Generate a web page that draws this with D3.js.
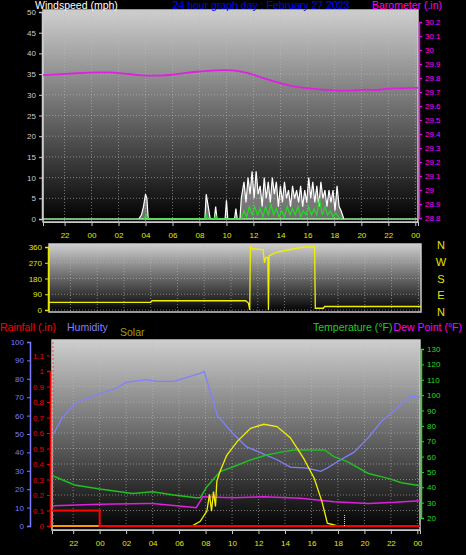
<!DOCTYPE html>
<html><head><meta charset="utf-8">
<script src="https://cdn.jsdelivr.net/npm/d3@7"></script>
<style>body{margin:0;background:#000}svg{display:block;font-family:"Liberation Sans",Arial,sans-serif}</style>
</head><body><div id="viz"></div>
<script>
// time is hours from midnight of Feb 27 (negative = previous evening)
var timeTicks = [-2,0,2,4,6,8,10,12,14,16,18,20,22,24];
var baro = [[-3.6,29.82],[-1.9,29.83],[0.1,29.84],[1.1,29.843],[3.1,29.826],[4.1,29.814],[6,29.82],[7.5,29.845],[9.3,29.857],[10.5,29.857],[11.5,29.84],[12.7,29.80],[14.2,29.755],[15.5,29.73],[16.7,29.72],[17.9,29.71],[19.4,29.71],[20.4,29.72],[21.1,29.71],[21.9,29.726],[24.2,29.73]];
var gust = [[3.5,0],[3.7,1],[3.85,3],[4.0,6],[4.1,5],[4.2,0],[8.4,0],[8.5,6],[8.65,3],[8.8,0],[9.1,0],[9.2,3],[9.3,0],[9.9,0],[10,4.5],[10.1,0],[10.6,0],[10.7,2.5],[10.8,0],
 [11.0,0],[11.1,5],[11.3,9],[11.45,4],[11.6,10],[11.75,6],[11.9,11.5],[12.05,5],[12.2,11.5],[12.35,6],[12.5,8],[12.65,3],[12.8,10],[12.95,5],[13.1,9],[13.25,4],[13.4,10],[13.55,6],[13.7,9],[13.85,3],[14.0,8],[14.15,4],[14.3,9],[14.45,5],[14.6,7],[14.75,3],[14.9,8],[15.05,5],[15.2,7],[15.35,4],[15.5,8],[15.65,3],[15.8,7],[15.95,4],[16.1,10],[16.25,5],[16.4,9],[16.55,4],[16.7,8],[16.85,3],[17.0,9],[17.15,5],[17.3,7],[17.45,3],[17.6,7],[17.75,4],[17.9,7],[18.05,2],[18.2,8],[18.35,3],[18.5,2],[18.7,0]];
var windAvg = [[3.9,0],[4.05,1],[4.2,0],[8.4,0],[8.5,1],[8.6,0],[9.1,0],[9.2,1],[9.3,0],
 [11.1,0],[11.3,2],[11.5,0.5],[11.7,3],[11.9,1],[12.1,3],[12.3,1],[12.5,2.5],[12.7,0.5],[12.9,3],[13.1,1],[13.3,3.5],[13.5,1],[13.7,2.5],[13.9,0.5],[14.1,2],[14.3,0.5],[14.5,3],[14.7,1],[14.9,2.5],[15.1,1],[15.3,3],[15.5,0.5],[15.7,2],[15.9,1],[16.1,3],[16.3,1],[16.5,2.5],[16.7,1],[16.9,5],[17.1,1],[17.3,3],[17.5,1],[17.7,2],[17.9,0.5],[18.1,1.5],[18.3,0.5],[18.5,0]];
var windDir = [[-3.6,44],[4.0,44],[4.1,53],[11.1,53],[11.3,40],[11.4,0],[11.45,360],[11.6,350],[12.4,345],[12.5,270],[12.6,300],[12.75,300],[12.8,0],[12.85,310],[13.4,330],[14.7,350],[15.5,360],[16.25,360],[16.3,10],[16.9,10],[17.0,20],[24.2,20]];
var humidity = [[-3.5,50],[-2.8,59],[-1.8,67],[0,72],[1.3,75],[2,78],[3.5,79.5],[4.3,78.6],[5.6,78.6],[6.6,80.8],[7.6,83],[7.9,84],[8.9,60],[10.1,50],[11.1,43],[12.1,40],[13.4,36],[14.4,32],[15.7,31.5],[16.7,29.7],[17.2,31.5],[18.2,36],[19.2,40],[20.3,48],[21.3,57],[22.3,63],[23.5,70.5],[24.2,70]];
var temperature = [[-3.5,47.3],[-1.9,41.5],[0,38.9],[2.5,36],[4,37.1],[5.6,35],[7.3,33.2],[7.6,33.2],[8.1,40.4],[9.1,50.2],[10.1,53.4],[11.4,57.8],[12.6,61],[13.9,63.2],[14.7,64.3],[16,64.3],[17,64.3],[17.7,59.9],[18.7,56.7],[20.3,49],[21.8,45.8],[22.8,43],[24.2,41]];
var dewPoint = [[-3.5,28],[0,28.9],[3.5,29.5],[4,29.5],[6.6,27.4],[7.3,26.7],[7.8,33.9],[10.1,33.2],[12.4,33.9],[15.2,32.8],[17.7,30.6],[20.3,29.5],[22.3,30.2],[24.2,31.3]];
var solar = [[-3.6,0],[6.97,0],[7.6,25],[8.1,80],[8.3,170],[8.45,80],[8.6,185],[8.75,105],[8.85,240],[9.1,295],[9.6,380],[10.4,455],[11.4,525],[12.4,547],[13.4,535],[14.4,475],[15.4,365],[16.2,258],[16.8,130],[17.2,15],[18,0],[24.2,0]];
var rain = [[-3.6,0.1],[0,0.1],[0,0],[24.2,0]];
var windTicks = d3.range(0,51,5), baroTicks = d3.range(28.8,30.25,0.1);
var dirTicks = [0,90,180,270,360], compass = ["N","W","S","E","N"];
var humTicks = d3.range(0,101,10), rainTicks = d3.range(0,1.15,0.1), tempTicks = d3.range(20,131,10);

var svg = d3.select('#viz').append('svg').attr('width',466).attr('height',555);
var defs = svg.append('defs');
var g = defs.append('linearGradient').attr('id','bg').attr('x1',0).attr('y1',0).attr('x2',0).attr('y2',1);
g.append('stop').attr('offset','0%').attr('stop-color','#cfcfcf');
g.append('stop').attr('offset','100%').attr('stop-color','#000');

function panel(x0,x1,y0,y1,tx){
  svg.append('rect').attr('x',x0).attr('y',y0).attr('width',x1-x0).attr('height',y1-y0).attr('fill','url(#bg)');
  var x = d3.scaleLinear().domain([-3.6,24.2]).range([x0,x1]);
  svg.append('g').selectAll('line').data(timeTicks).join('line')
    .attr('x1',d=>x(d)).attr('x2',d=>x(d)).attr('y1',y0).attr('y2',y1)
    .attr('stroke','#bbb').attr('stroke-width',0.6).attr('stroke-dasharray','1,2');
  svg.append('rect').attr('x',x0).attr('y',y0).attr('width',x1-x0).attr('height',y1-y0)
    .attr('fill','none').attr('stroke','#ccc').attr('stroke-width',1.5);
  if(tx){
    var ax = svg.append('g').attr('transform','translate(0,'+y1+')')
      .call(d3.axisBottom(x).tickValues(timeTicks).tickSize(4).tickFormat(d=>d3.format('02')(((d%24)+24)%24)));
    ax.select('.domain').attr('stroke','#ccc');
    ax.selectAll('line').attr('stroke','#ccc');
    ax.selectAll('text').attr('fill','#e6e600').attr('font-size',8).attr('dy','1.1em');
  }
  return x;
}
function hgrid(y,ticks,x0,x1){
  svg.append('g').selectAll('line').data(ticks).join('line')
    .attr('x1',x0).attr('x2',x1).attr('y1',d=>y(d)).attr('y2',d=>y(d))
    .attr('stroke','#bbb').attr('stroke-width',0.6).attr('stroke-dasharray','1,2');
}
function yaxis(gen,pos,col,ticks,fmt){
  var a = svg.append('g').attr('transform','translate('+pos+',0)')
    .call(gen.tickValues(ticks).tickSize(3).tickFormat(fmt));
  a.select('.domain').attr('stroke',col).attr('stroke-width',1.5);
  a.selectAll('line').attr('stroke',col);
  a.selectAll('text').attr('fill',col).attr('font-size',8);
}
function line(x,y,data,col,w,curve){
  svg.append('path').datum(data).attr('fill','none').attr('stroke',col).attr('stroke-width',w)
    .attr('d',d3.line().x(d=>x(d[0])).y(d=>y(d[1])).curve(curve||d3.curveLinear));
}
function txt(s,x,y,col,size,anchor){
  svg.append('text').text(s).attr('x',x).attr('y',y).attr('fill',col).attr('font-size',size||11).attr('text-anchor',anchor||'start');
}

// ---- wind / barometer
var x1 = panel(43,418,10,222,true);
var yW = d3.scaleLinear().domain([0,50]).range([219,12]);
var yB = d3.scaleLinear().domain([28.8,30.2]).range([218,22]);
hgrid(yW,windTicks,43,418);
yaxis(d3.axisLeft(yW),42,'#ccc',windTicks,d3.format('d'));
yaxis(d3.axisRight(yB),419,'#f0f',baroTicks,d=>d3.format('.1f')(d).replace(/\.0$/,''));
svg.append('path').datum(gust).attr('fill','rgba(220,220,220,0.5)')
  .attr('d',d3.area().x(d=>x1(d[0])).y0(yW(0)).y1(d=>yW(d[1])));
line(x1,yW,gust,'#fff',1.2);
line(x1,yW,[[-3.6,0],[24.2,0]],'#9e9',1.5);
line(x1,yW,windAvg,'#2d2',1.2);
line(x1,yB,baro,'#e020e0',1.8,d3.curveBasis);
txt('Windspeed (mph)',35,9,'#fff',10.5);
txt('24 hour graph day : February 27 2023',261,9,'#0000ff',10.5,'middle');
txt('Barometer (.in)',372,9,'#f0f',10.5);

// ---- wind direction
var x2 = panel(49,421,244,312,false);
var yD = d3.scaleLinear().domain([0,360]).range([310,247]);
hgrid(yD,dirTicks,49,421);
yaxis(d3.axisLeft(yD),48,'#e6e600',dirTicks,d3.format('d'));
line(x2,yD,windDir,'#f0f000',1.3);
compass.forEach(function(c,i){ txt(c,441,249+i*16.8,'#e6e600',11,'middle'); });

// ---- rain / humidity / solar / temperature
var x3 = panel(52,420,340,530,true);
var yH = d3.scaleLinear().domain([0,100]).range([526,342]);
var yR = d3.scaleLinear().domain([0,1]).range([526,371]);
var yT = d3.scaleLinear().domain([20,130]).range([518,349]);
var yS = d3.scaleLinear().domain([0,1000]).range([526,340]);
hgrid(yR,rainTicks,52,420);
yaxis(d3.axisLeft(yH),30,'#7c7cff',humTicks,d3.format('d'));
yaxis(d3.axisLeft(yR),50,'#e00',rainTicks,d=>d3.format('.1f')(d).replace(/\.0$/,''));
yaxis(d3.axisRight(yT),421,'#2d2',tempTicks,d3.format('d'));
svg.append('line').attr('x1',53).attr('x2',53).attr('y1',342).attr('y2',526)
  .attr('stroke','#f44').attr('stroke-dasharray','2,2');
line(x3,yH,humidity,'#8080ff',1.3);
line(x3,yT,temperature,'#20c020',1.5);
line(x3,yT,dewPoint,'#e020e0',1.5);
line(x3,yS,solar,'#f0f000',1.3);
line(x3,yR,[[-3.6,0],[24.2,0]],'#f90',2);
line(x3,yR,rain,'#f00',2);
svg.append('line').attr('x1',x3(18.5)).attr('x2',x3(18.5)).attr('y1',yS(0)).attr('y2',yS(60))
  .attr('stroke','#ff0').attr('stroke-dasharray','1,1');
txt('Rainfall (.in)',0,331,'#f00',10.5);
txt('Humidity',67,331,'#8080ff',10.5);
txt('Solar',120,336,'#a0a000',10.5);
txt('Temperature (°F)',313,331,'#20d020',10.5);
txt('Dew Point (°F)',462,331,'#f0f',10.5,'end');
</script></body></html>
